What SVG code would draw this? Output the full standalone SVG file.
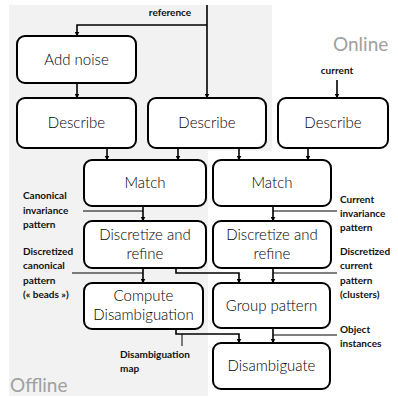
<svg xmlns="http://www.w3.org/2000/svg" width="398" height="398" viewBox="0 0 398 398">
<defs>
<marker id="ah" viewBox="0 0 10 10" refX="9" refY="5" markerWidth="5" markerHeight="5" orient="auto" markerUnits="userSpaceOnUse">
<path d="M0,0 L10,5 L0,10 z" fill="#000"/>
</marker>
<style>
.box{fill:#fff;stroke:#000;stroke-width:2}
.nt{font-family:Lato,"Liberation Sans",sans-serif;font-size:15px;font-weight:300;fill:#000;text-anchor:middle}
.lb{font-family:Lato,"Liberation Sans",sans-serif;font-size:10px;font-weight:bold;fill:#111}
.c{fill:none;stroke:#000;stroke-width:1.6}
.a{marker-end:url(#ah)}
.ll{fill:none;stroke:#000;stroke-width:1}
.zone{font-family:Lato,"Liberation Sans",sans-serif;font-size:19px;font-weight:400;fill:#a0a0a0}
</style>
</defs>
<rect width="398" height="398" fill="#fff"/>
<path d="M9,5 H272 V151 H208 V396 H9 Z" fill="#f2f2f2"/>
<text class="zone" x="333" y="51">Online</text>
<text class="zone" x="10" y="392">Offline</text>

<g id="connectors">
<path class="c a" d="M207,25 H77 V36"/>
<path class="c a" d="M207,5 V98"/>
<path class="c a" d="M77,83 V98"/>
<path class="c a" d="M337,80 V98"/>
<path class="c a" d="M107,148 V160"/>
<path class="c a" d="M178,148 V160"/>
<path class="c a" d="M239,148 V160"/>
<path class="c a" d="M308,148 V160"/>
<path class="c a" d="M143,206 V221"/>
<path class="c a" d="M273,206 V221"/>
<path class="c a" d="M143,268 V283"/>
<path class="c a" d="M176,268 V273 H239 V283"/>
<path class="c a" d="M273,268 V283"/>
<path class="c a" d="M176,329 V334 H239 V343"/>
<path class="c a" d="M273,328 V343"/>
<path class="ll" d="M83,211 H143"/>
<path class="ll" d="M273,211 H337"/>
<path class="ll" d="M72,273 H143"/>
<path class="ll" d="M273,273 H337"/>
<path class="ll" d="M182,334 V346"/>
<path class="ll" d="M273,335 H337"/>
</g>

<g id="labels">
<text class="lb" x="170" y="16" text-anchor="middle">reference</text>
<text class="lb" x="337" y="74" text-anchor="middle">current</text>
<text class="lb" x="23" y="199">Canonical</text>
<text class="lb" x="23" y="214">invariance</text>
<text class="lb" x="23" y="228">pattern</text>
<text class="lb" x="23" y="255">Discretized</text>
<text class="lb" x="23" y="269">canonical</text>
<text class="lb" x="23" y="284">pattern</text>
<text class="lb" x="23" y="298">(« beads »)</text>
<text class="lb" x="340" y="203">Current</text>
<text class="lb" x="340" y="217">invariance</text>
<text class="lb" x="340" y="231">pattern</text>
<text class="lb" x="340" y="255">Discretized</text>
<text class="lb" x="340" y="269">current</text>
<text class="lb" x="340" y="284">pattern</text>
<text class="lb" x="340" y="298">(clusters)</text>
<text class="lb" x="340" y="333">Object</text>
<text class="lb" x="340" y="347">instances</text>
<text class="lb" x="120" y="358">Disambiguation</text>
<text class="lb" x="120" y="372">map</text>
</g>

<g id="add-noise"><rect class="box" x="17" y="36" width="119" height="47" rx="8"/><text class="nt" x="76.5" y="65">Add noise</text></g>
<g id="describe-1"><rect class="box" x="17" y="98" width="119" height="50" rx="8"/><text class="nt" x="76.5" y="128">Describe</text></g>
<g id="describe-2"><rect class="box" x="148" y="98" width="118" height="50" rx="8"/><text class="nt" x="207" y="128">Describe</text></g>
<g id="describe-3"><rect class="box" x="278" y="98" width="110" height="50" rx="8"/><text class="nt" x="333" y="128">Describe</text></g>
<g id="match-1"><rect class="box" x="84" y="160" width="122" height="46" rx="8"/><text class="nt" x="145" y="188">Match</text></g>
<g id="match-2"><rect class="box" x="213" y="160" width="118" height="46" rx="8"/><text class="nt" x="272" y="188">Match</text></g>
<g id="discretize-1"><rect class="box" x="84" y="221" width="122" height="47" rx="8"/><text class="nt" x="145" y="240">Discretize and</text><text class="nt" x="145" y="259">refine</text></g>
<g id="discretize-2"><rect class="box" x="213" y="221" width="118" height="47" rx="8"/><text class="nt" x="272" y="240">Discretize and</text><text class="nt" x="272" y="259">refine</text></g>
<g id="compute"><rect class="box" x="84" y="283" width="119" height="46" rx="8"/><text class="nt" x="143.5" y="301">Compute</text><text class="nt" x="143.5" y="320">Disambiguation</text></g>
<g id="group-pattern"><rect class="box" x="213" y="283" width="117" height="45" rx="8"/><text class="nt" x="271.5" y="311">Group pattern</text></g>
<g id="disambiguate"><rect class="box" x="213" y="343" width="117" height="46" rx="8"/><text class="nt" x="271.5" y="371">Disambiguate</text></g>
</svg>
